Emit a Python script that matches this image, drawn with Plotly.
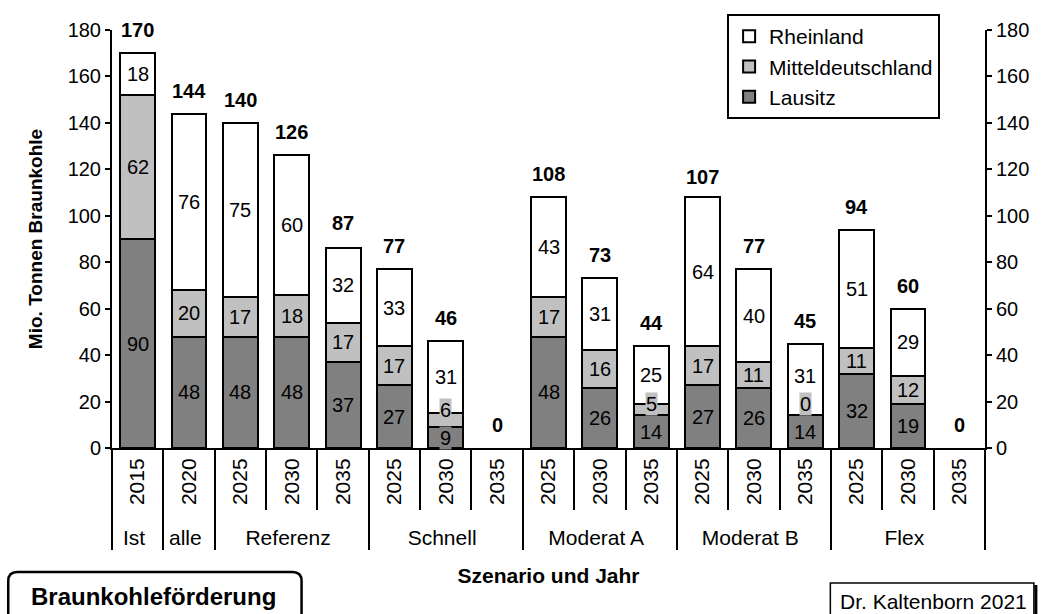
import plotly.graph_objects as go

# categories (scenario, year)
groups = ["Ist", "alle", "Referenz", "Referenz", "Referenz", "Schnell", "Schnell", "Schnell",
          "Moderat A", "Moderat A", "Moderat A", "Moderat B", "Moderat B", "Moderat B",
          "Flex", "Flex", "Flex"]
years = ["2015", "2020", "2025", "2030", "2035", "2025", "2030", "2035",
         "2025", "2030", "2035", "2025", "2030", "2035", "2025", "2030", "2035"]

# Mio. Tonnen Braunkohle per region (None = no value)
lausitz = [90, 48, 48, 48, 37, 27, 9, None, 48, 26, 14, 27, 26, 14, 32, 19, None]
mitteldeutschland = [62, 20, 17, 18, 17, 17, 6, None, 17, 16, 5, 17, 11, 0, 11, 12, None]
rheinland = [18, 76, 75, 60, 32, 33, 31, None, 43, 31, 25, 64, 40, 31, 51, 29, None]
totals = [170, 144, 140, 126, 87, 77, 46, 0, 108, 73, 44, 107, 77, 45, 94, 60, 0]

FONT = "Arial, 'Liberation Sans', sans-serif"
W, H = 1041, 614
ML, MR, MT, MB = 112, 54, 30, 166


def px_x(px):
    return (px - ML) / (W - ML - MR)


def px_y(py):
    return (H - MB - py) / (H - MT - MB)


series = [
    ("Lausitz", lausitz, "#808080"),
    ("Mitteldeutschland", mitteldeutschland, "#c0c0c0"),
    ("Rheinland", rheinland, "#ffffff"),
]

fig = go.Figure()
for name, vals, color in series:
    fig.add_trace(go.Bar(
        x=[groups, years], y=vals, name=name,
        marker=dict(color=color, line=dict(color="black", width=2)),
    ))

# invisible trace so the right-hand axis is drawn
fig.add_trace(go.Scatter(
    x=[groups, years], y=totals, yaxis="y2", mode="lines",
    line=dict(width=0), opacity=0, showlegend=False, hoverinfo="skip",
))

annotations = []
# segment labels (pushed up a bit when a segment is too small)
for i in range(len(years)):
    base = 0
    prev = None
    for name, vals, color in series:
        v = vals[i]
        if v is None:
            continue
        y = base + v / 2
        if prev is not None:
            y = max(y, prev + 12)
        annotations.append(dict(
            x=i, y=y, text=str(v), showarrow=False, bgcolor=color, borderpad=0,
            font=dict(size=20, color="black", family=FONT),
        ))
        prev = y
        base += v

# totals above bars
for i, t in enumerate(totals):
    annotations.append(dict(
        x=i, y=t, text=f"<b>{t}</b>", showarrow=False, yshift=23,
        font=dict(size=20, color="black", family=FONT),
    ))

annotations.append(dict(
    xref="paper", yref="paper", x=px_x(154), y=px_y(596), xanchor="center", yanchor="middle",
    text="<b>Braunkohleförderung</b>", showarrow=False,
    font=dict(size=24, color="black", family=FONT),
))
annotations.append(dict(
    xref="paper", yref="paper", x=px_x(935), y=px_y(601), xanchor="center", yanchor="middle",
    text="Dr. Kaltenborn 2021", showarrow=False,
    font=dict(size=21, color="black", family=FONT),
))

# rounded box bottom-left
x0, x1, y0, y1, r = 8, 302, 572, 630, 9
path = (f"M {px_x(x0)},{px_y(y1)} L {px_x(x0)},{px_y(y0 + r)} "
        f"Q {px_x(x0)},{px_y(y0)} {px_x(x0 + r)},{px_y(y0)} "
        f"L {px_x(x1 - r)},{px_y(y0)} Q {px_x(x1)},{px_y(y0)} {px_x(x1)},{px_y(y0 + r)} "
        f"L {px_x(x1)},{px_y(y1)}")
shapes = [
    dict(type="path", xref="paper", yref="paper", path=path,
         line=dict(color="black", width=2.5)),
    dict(type="rect", xref="paper", yref="paper", x0=px_x(832), x1=px_x(1036),
         y0=px_y(583), y1=px_y(630), line=dict(color="black", width=1.5)),
    dict(type="line", xref="paper", yref="paper", x0=px_x(1038), x1=px_x(1038),
         y0=px_y(585), y1=px_y(630), line=dict(color="black", width=3)),
]

yaxis_style = dict(
    range=[0, 180], dtick=20, ticks="outside", ticklen=5, tickwidth=2, tickcolor="black",
    showline=True, linewidth=2, linecolor="black", showgrid=False, zeroline=False,
    tickfont=dict(size=20, color="black", family=FONT),
)

fig.update_layout(
    width=W, height=H,
    margin=dict(l=ML, r=MR, t=MT, b=MB),
    paper_bgcolor="white", plot_bgcolor="white",
    barmode="stack", bargap=0.32,
    font=dict(family=FONT, color="black"),
    xaxis=dict(
        range=[-0.5, len(years) - 0.5],
        showline=True, linewidth=2, linecolor="black",
        ticks="outside", tickson="boundaries", ticklen=60, tickwidth=2, tickcolor="black",
        tickangle=-90, showdividers=True, dividercolor="black", dividerwidth=2,
        tickfont=dict(size=21, color="black", family=FONT),
        title=dict(text="<b>Szenario und Jahr</b>", font=dict(size=21, family=FONT), standoff=20),
        showgrid=False,
    ),
    yaxis=dict(
        **yaxis_style,
        title=dict(text="<b>Mio. Tonnen Braunkohle</b>", font=dict(size=19, family=FONT), standoff=20),
    ),
    yaxis2=dict(**yaxis_style, overlaying="y", side="right"),
    legend=dict(
        x=px_x(942), xanchor="right", y=px_y(14), yanchor="top",
        traceorder="reversed", bordercolor="black", borderwidth=2, bgcolor="white",
        font=dict(size=21, color="black", family=FONT),
    ),
    annotations=annotations,
    shapes=shapes,
)

fig.write_html("out.html", config={"displayModeBar": False},
               post_script="document.body.style.margin='0';")
